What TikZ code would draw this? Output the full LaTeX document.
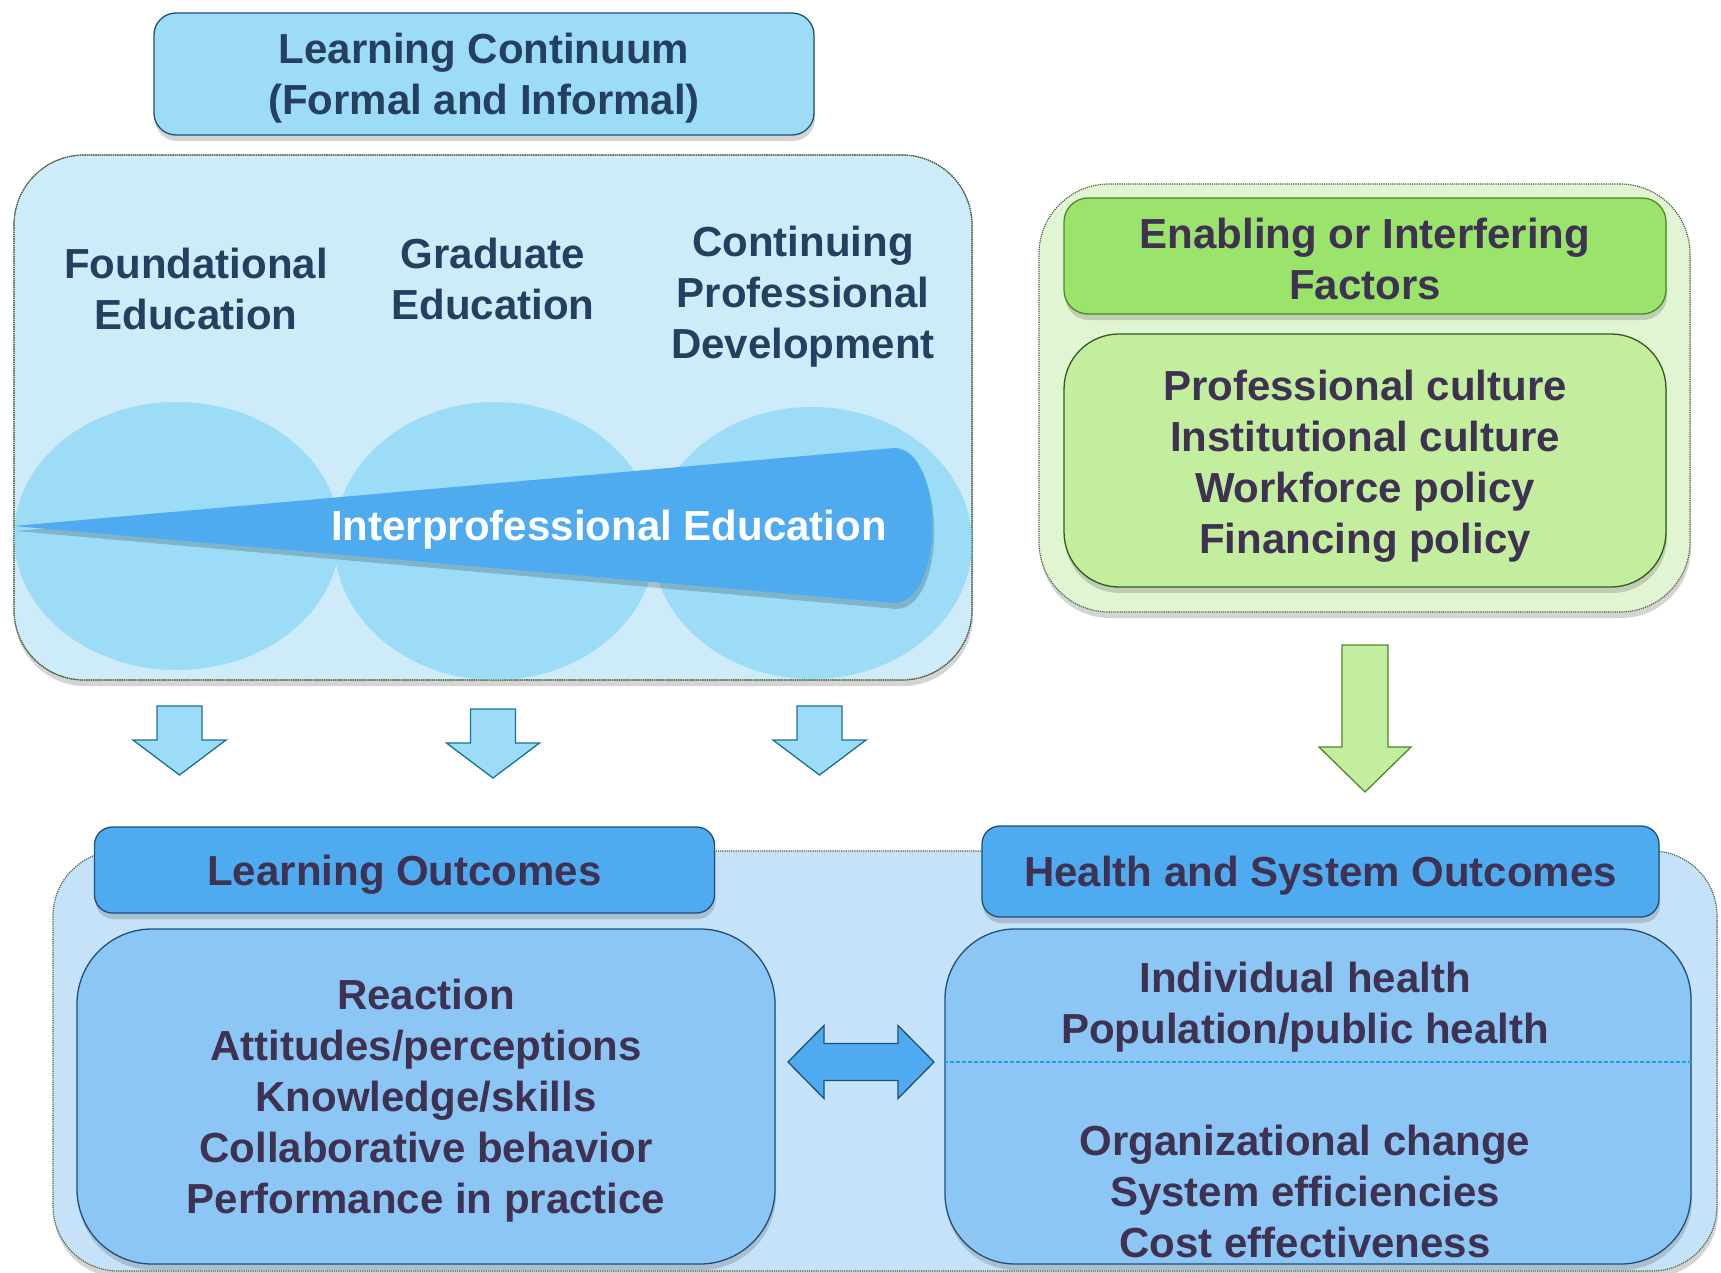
\documentclass[tikz,border=0pt]{standalone}
\usepackage{fontspec}
\setmainfont{Liberation Sans}
\usetikzlibrary{shadows}
\definecolor{navy}{HTML}{243F60}
\definecolor{purp}{HTML}{3F3151}
\definecolor{lcfill}{HTML}{9DDCF6}
\definecolor{contblue}{HTML}{CDEBF8}
\definecolor{wedgec}{HTML}{4EABF0}
\definecolor{boxborder}{HTML}{1F4E79}
\definecolor{gcont}{HTML}{E1F5D2}
\definecolor{ghead}{HTML}{9BE46B}
\definecolor{gbody}{HTML}{C2EE9D}
\definecolor{gborder}{HTML}{4A8A28}
\definecolor{gdark}{HTML}{2F5A1E}
\definecolor{bcont}{HTML}{C5E2F8}
\definecolor{bbody}{HTML}{8BC6F4}
\definecolor{dashc}{HTML}{1BA1E2}
\definecolor{dotc}{HTML}{4F6240}
\tikzset{
  txt/.style={font=\fontsize{42}{51}\selectfont\bfseries, align=center, inner sep=0pt},
  shad/.style={drop shadow={shadow xshift=1pt, shadow yshift=-6pt, opacity=0.28, fill=black!60}},
  cont/.style={draw=dotc, densely dotted, line width=1.2pt, shad},
  boxb/.style={draw=boxborder, line width=1.3pt, shad},
  arrowblue/.style={fill=lcfill, draw=boxborder!80!cyan, line width=1.3pt},
  arrowgreen/.style={fill=gbody, draw=gborder, line width=1.3pt},
  darr/.pic={\path[arrowblue] (-22.5,0) -- (22.5,0) -- (22.5,34) -- (46.5,34) -- (0,69) -- (-46.5,34) -- (-22.5,34) -- cycle;},
  garr/.pic={\path[arrowgreen] (-23,0) -- (23,0) -- (23,102) -- (46,102) -- (0,147) -- (-46,102) -- (-23,102) -- cycle;},
  dblarr/.pic={\path[fill=wedgec, draw=boxborder, line width=1.3pt] (-73,0) -- (-37,-36.5) -- (-37,-18.5) -- (37,-18.5) -- (37,-36.5) -- (73,0) -- (37,36.5) -- (37,18.5) -- (-37,18.5) -- (-37,36.5) -- cycle;}
}
\begin{document}
\begin{tikzpicture}[x=1pt,y=-1pt]
\useasboundingbox (0,0) rectangle (1721,1273);
% ---------- top left: learning continuum
\node[boxb, fill=lcfill, rounded corners=22, minimum width=660, minimum height=122] (lc) at (484,74) {};
\node[txt, text=navy] (lct) at ([yshift=-4.5pt]lc.center) {Learning Continuum\\(Formal and Informal)};
\node[cont, fill=contblue, rounded corners=70, minimum width=958, minimum height=525] (lcont) at (493,417.5) {};
\begin{scope}
  \clip[rounded corners=70] (14,155) rectangle (972,680);
  \fill[lcfill] (177,536) ellipse [x radius=163, y radius=134];
  \fill[lcfill] (495,541) ellipse [x radius=161, y radius=139];
  \fill[lcfill] (812,543) ellipse [x radius=160, y radius=136];
  \fill[black, opacity=0.18] (16,531) -- (896,454) .. controls (947,454) and (947,609) .. (896,609) -- cycle;
  \fill[wedgec] (14,526) -- (894,448) .. controls (945,448) and (945,603) .. (894,603) -- cycle;
\end{scope}
\draw[draw=dotc, densely dotted, line width=1.2pt, rounded corners=70] (14,155) rectangle (972,680);
\node[txt, text=white] (ipe) at (609,529.5) {Interprofessional Education};
\node[txt, text=navy] (fe) at (196,289) {Foundational\\Education};
\node[txt, text=navy] (ge) at (493,279) {Graduate\\Education};
\node[txt, text=navy] (cpd) at (803,296.5) {Continuing\\Professional\\Development};
% ---------- top right: enabling factors
\node[cont, fill=gcont, rounded corners=70, minimum width=651, minimum height=428] (gcont) at (1364.5,398) {};
\node[draw=gborder, line width=1.3pt, shad, fill=ghead, rounded corners=24, minimum width=602, minimum height=116] (gh) at (1365,256) {};
\node[txt, text=purp] (ght) at ([yshift=-3pt]gh.center) {Enabling or Interfering\\Factors};
\node[draw=gdark, line width=1.3pt, shad, fill=gbody, rounded corners=55, minimum width=602, minimum height=253] (gb) at (1365,460.5) {};
\node[txt, text=purp] (gbt) at ([yshift=-5.5pt]gb.center) {Professional culture\\Institutional culture\\Workforce policy\\Financing policy};
% ---------- arrows down
\pic at (179.5,706) {darr};
\pic at (493,709) {darr};
\pic at (819.5,706) {darr};
\pic at (1365,645) {garr};
% ---------- bottom
\node[cont, fill=bcont, rounded corners=65, minimum width=1664, minimum height=420] (bcont) at (885,1061) {};
\node[boxb, fill=wedgec, rounded corners=18, minimum width=620, minimum height=86] (lot) at (404.5,870) {};
\node[txt, text=purp] (lott) at ([yshift=-5pt]lot.center) {Learning Outcomes};
\node[boxb, fill=bbody, rounded corners=75, minimum width=698, minimum height=335] (lob) at (426,1096.5) {};
\node[txt, text=purp] (lobt) at ([yshift=-4.5pt]lob.center) {Reaction\\Attitudes/perceptions\\Knowledge/skills\\Collaborative behavior\\Performance in practice};
\node[boxb, fill=wedgec, rounded corners=18, minimum width=677, minimum height=91] (hst) at (1320.5,871.5) {};
\node[txt, text=purp] (hstt) at ([yshift=-4pt]hst.center) {Health and System Outcomes};
\node[boxb, fill=bbody, rounded corners=70, minimum width=746, minimum height=335, inner sep=0pt] (hb) at (1318,1096.5) {};
\draw[dashc, dashed, line width=1.3pt, dash pattern=on 4pt off 2pt] ([yshift=34.5pt]hb.west) -- ([yshift=34.5pt]hb.east);
\node[txt, text=purp] (hb1) at (1305,1007.5) {Individual health\\Population/public health};
\node[txt, text=purp] (hb2) at (1305,1191.5) {Organizational change\\System efficiencies\\Cost effectiveness};
\pic at (861,1062) {dblarr};
\end{tikzpicture}
\end{document}
